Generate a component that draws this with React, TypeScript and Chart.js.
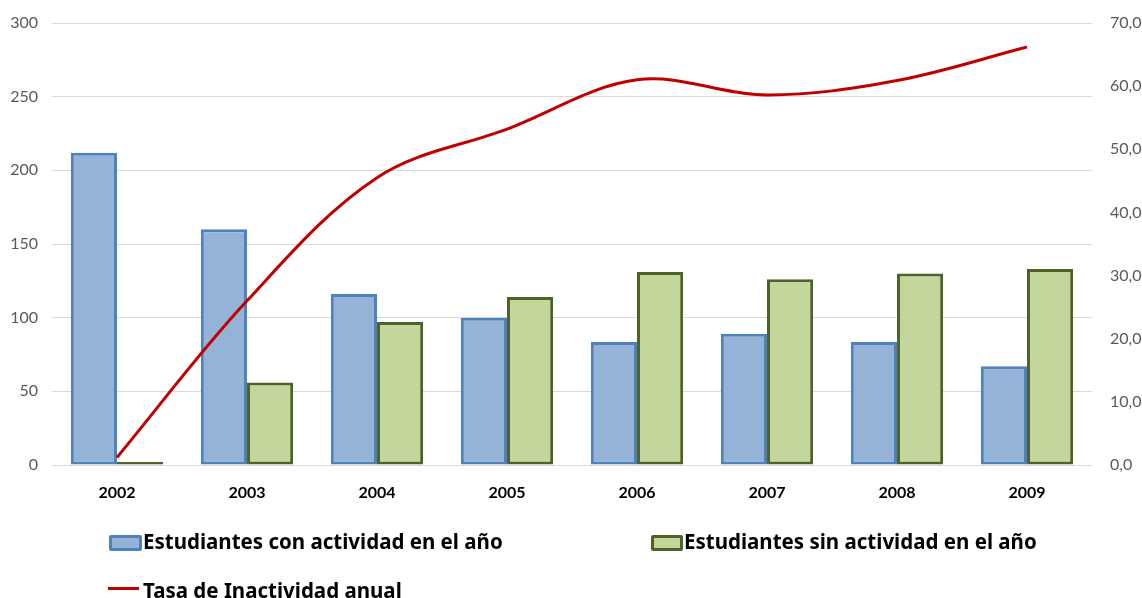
import React, { useEffect, useRef } from "react";
import { Chart, registerables } from "chart.js";

Chart.register(...registerables);

const years = ["2002", "2003", "2004", "2005", "2006", "2007", "2008", "2009"];
const conActividad = [212, 160, 116, 100, 83.5, 89, 83.5, 67];
const sinActividad = [2, 56, 97, 114, 131, 126, 130, 133];
const tasaInactividad = [1.2, 26.0, 45.5, 53.2, 61.0, 58.6, 60.9, 66.2];

const labelCon = "Estudiantes con actividad en el año";
const labelSin = "Estudiantes sin actividad en el año";
const labelTasa = "Tasa de Inactividad anual";

const FONT = "Lato, 'Noto Sans', sans-serif";
const LEGEND_FONT = "'Noto Sans', Lato, sans-serif";

export default function App() {
  const ref = useRef<HTMLCanvasElement | null>(null);

  useEffect(() => {
    document.body.style.margin = "0";
    if (!ref.current) return;
    const chart = new Chart(ref.current, {
      type: "bar",
      data: {
        labels: years,
        datasets: [
          {
            type: "line",
            label: labelTasa,
            data: tasaInactividad,
            yAxisID: "y2",
            borderColor: "#C00000",
            borderWidth: 3,
            pointRadius: 0,
            tension: 0.35,
            fill: false,
            order: 0,
          } as any,
          {
            label: labelCon,
            data: conActividad,
            yAxisID: "y",
            backgroundColor: "#95B3D7",
            borderColor: "#4F81BD",
            borderWidth: 3,
            borderSkipped: false,
            categoryPercentage: 0.71,
            barPercentage: 1,
            order: 1,
          },
          {
            label: labelSin,
            data: sinActividad,
            yAxisID: "y",
            backgroundColor: "#C3D69B",
            borderColor: "#4F6228",
            borderWidth: 3,
            borderSkipped: false,
            categoryPercentage: 0.71,
            barPercentage: 1,
            order: 1,
          },
        ],
      },
      options: {
        animation: false,
        responsive: false,
        maintainAspectRatio: false,
        layout: { padding: { top: 23, left: 0, right: 0, bottom: 0 } },
        plugins: {
          legend: { display: false },
          tooltip: { enabled: false },
        },
        scales: {
          x: {
            grid: { display: false, drawTicks: false },
            border: { display: false },
            ticks: {
              color: "#000000",
              font: { family: FONT, size: 16, weight: "bold" },
              padding: 18,
            },
            afterFit: (s: any) => {
              s.height = 133;
              s.paddingLeft = 0;
              s.paddingRight = 0;
            },
          },
          y: {
            position: "left",
            min: 0,
            max: 300,
            ticks: {
              stepSize: 50,
              color: "#595959",
              font: { family: FONT, size: 16 },
              padding: 14,
            },
            grid: { color: "#D9D9D9", lineWidth: 1, drawTicks: false },
            border: { display: false },
            afterFit: (s: any) => {
              s.width = 52;
              s.paddingTop = 0;
              s.paddingBottom = 0;
            },
          },
          y2: {
            position: "right",
            min: 0,
            max: 70,
            ticks: {
              stepSize: 10,
              color: "#595959",
              font: { family: FONT, size: 16 },
              padding: 18,
              callback: (v: any) => Number(v).toFixed(1).replace(".", ","),
            },
            grid: { display: false, drawTicks: false },
            border: { display: false },
            afterFit: (s: any) => {
              s.width = 50;
              s.paddingTop = 0;
              s.paddingBottom = 0;
            },
          },
        },
      },
    });
    return () => chart.destroy();
  }, []);

  const textStyle: React.CSSProperties = {
    position: "absolute",
    fontFamily: LEGEND_FONT,
    fontWeight: 700,
    fontSize: 20.5,
    color: "#000",
    lineHeight: "24px",
    whiteSpace: "nowrap",
  };

  return (
    <div style={{ position: "relative", width: 1142, height: 598, overflow: "hidden", background: "#fff" }}>
      <canvas ref={ref} width={1142} height={598} style={{ position: "absolute", left: 0, top: 0 }} />
      <div
        style={{
          position: "absolute",
          left: 109,
          top: 535,
          width: 27,
          height: 10,
          background: "#95B3D7",
          border: "3px solid #4F81BD",
          borderRadius: 2,
        }}
      />
      <div style={{ ...textStyle, left: 143, top: 529 }}>{labelCon}</div>
      <div
        style={{
          position: "absolute",
          left: 651,
          top: 535,
          width: 26,
          height: 10,
          background: "#C3D69B",
          border: "3px solid #4F6228",
          borderRadius: 2,
        }}
      />
      <div style={{ ...textStyle, left: 684, top: 529 }}>{labelSin}</div>
      <div
        style={{
          position: "absolute",
          left: 108,
          top: 587,
          width: 31,
          height: 3,
          background: "#C00000",
        }}
      />
      <div style={{ ...textStyle, left: 143, top: 578 }}>{labelTasa}</div>
    </div>
  );
}
